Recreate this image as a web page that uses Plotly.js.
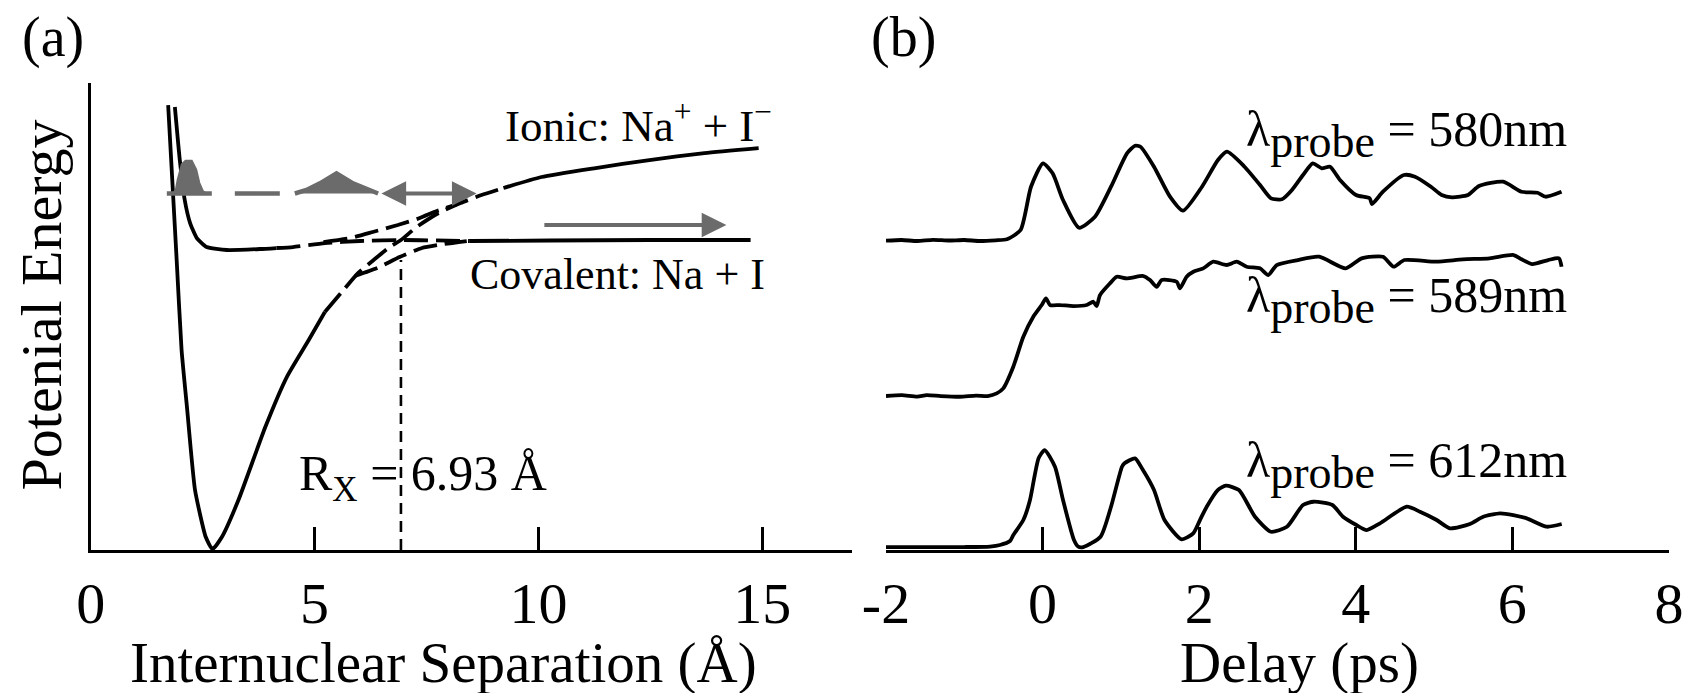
<!DOCTYPE html>
<html>
<head>
<meta charset="utf-8">
<script src="https://cdn.plot.ly/plotly-3.0.1.min.js"></script>
<style>html,body{margin:0;padding:0;background:#fff;}#chart{width:1686px;height:693px;}</style>
</head>
<body>
<div id="chart"></div>
<script>
// ---------- Panel (a): potential energy curves (x in Å, y arbitrary units) ----------
const ionicX = [1.73, 1.92, 2.03, 2.15, 2.33, 2.57, 2.72, 2.93, 3.30, 3.90, 4.38, 4.87, 5.23, 5.59, 5.97, 6.32, 6.68, 6.93, 7.28, 7.77, 8.26, 8.73, 9.22, 10.07, 11.28, 12.48, 13.71, 14.92];
const ionicY = [44.5, 29.0, 20.0, 14.3, 6.0, 1.3, 0.1, 1.3, 5.0, 12.3, 17.3, 21.0, 23.8, 25.7, 27.7, 29.0, 30.3, 31.0, 32.3, 33.7, 34.7, 35.5, 36.2, 37.3, 38.2, 39.0, 39.7, 40.2];
const covX = [1.88, 1.99, 2.10, 2.22, 2.37, 2.59, 3.04, 3.78, 4.15, 4.52, 5.23, 6.01, 6.97, 8.47, 10.25, 12.48, 14.74];
const covY = [44.3, 39.0, 35.0, 32.7, 31.2, 30.3, 30.0, 30.1, 30.2, 30.3, 30.7, 30.9, 31.0, 30.9, 30.95, 31.0, 31.0];
const upperAdiaX = [5.2, 5.8, 6.3, 6.86, 7.35, 7.73, 8.2];
const upperAdiaY = [30.8, 31.2, 31.8, 32.5, 33.2, 33.9, 34.6];
const lowerAdiaX = [5.9, 6.4, 6.9, 7.4, 7.9, 8.4];
const lowerAdiaY = [27.4, 28.2, 29.3, 30.2, 30.6, 30.9];
const packetLevel = 35.65;
const packet1X = [1.88, 1.93, 1.97, 2.00, 2.06, 2.13, 2.24, 2.33, 2.40, 2.48, 2.53];
const packet1Y = [35.65, 36.0, 37.0, 37.7, 38.5, 38.8, 38.8, 38.0, 36.67, 35.83, 35.65];
const packet2X = [4.56, 4.82, 5.12, 5.34, 5.49, 5.64, 5.86, 6.23, 6.42];
const packet2Y = [35.65, 36.0, 36.67, 37.27, 37.67, 37.27, 36.67, 36.0, 35.65];
const crossingR = 6.93;
const crossingE = 29.0;
const ionicSolidEnd = 5.23, ionicSolidStart = 9.22;
const covSolidEnd = 4.15, covSolidStart = 8.47;
const packetStart = 1.70;
const oscArrow = [6.46, 8.62];
const dissocArrow = [10.1, 14.2];
const dissocLevel = 32.5;
const xTicksA = [0, 5, 10, 15];

// ---------- Panel (b): transients vs delay (ps) ----------
const t580 = [-2.0, -1.8, -1.6, -1.4, -1.2, -1.0, -0.8, -0.6, -0.455, -0.281, -0.148, 0.005, 0.128, 0.261, 0.465, 0.669, 0.874, 1.078, 1.180, 1.250, 1.423, 1.627, 1.793, 2.036, 2.240, 2.355, 2.579, 2.777, 2.917, 3.057, 3.185, 3.326, 3.450, 3.566, 3.671, 3.799, 4.003, 4.178, 4.207, 4.347, 4.616, 4.756, 4.960, 5.097, 5.229, 5.433, 5.574, 5.881, 6.117, 6.322, 6.424, 6.628];
const s580 = [30.93, 31.0, 30.9, 31.02, 30.95, 31.0, 30.9, 30.97, 31.07, 32.0, 36.33, 38.67, 37.67, 35.0, 32.23, 33.33, 36.33, 39.67, 40.43, 40.33, 38.33, 35.33, 33.93, 36.33, 39.0, 39.83, 38.33, 36.5, 35.17, 35.07, 36.0, 37.5, 38.67, 38.17, 38.33, 37.0, 35.5, 35.17, 34.6, 35.83, 37.5, 37.33, 36.33, 35.5, 35.27, 35.5, 36.4, 36.83, 35.83, 35.73, 35.33, 35.83];
const t589 = [-2.0, -1.8, -1.6, -1.48, -1.3, -1.055, -0.85, -0.7, -0.586, -0.502, -0.374, -0.246, -0.119, -0.011, 0.043, 0.095, 0.222, 0.392, 0.563, 0.648, 0.691, 0.733, 0.861, 0.946, 1.074, 1.286, 1.372, 1.457, 1.521, 1.713, 1.755, 1.840, 1.925, 2.052, 2.180, 2.351, 2.479, 2.607, 2.776, 2.883, 2.990, 3.259, 3.530, 3.871, 4.075, 4.347, 4.484, 4.621, 5.028, 5.369, 5.709, 6.015, 6.117, 6.254, 6.458, 6.595, 6.628];
const s589 = [15.4, 15.5, 15.35, 15.5, 15.4, 15.33, 15.45, 15.4, 15.67, 16.17, 18.33, 21.33, 23.33, 24.5, 25.17, 24.5, 24.5, 24.4, 24.5, 24.83, 24.4, 25.5, 26.67, 27.33, 27.17, 27.4, 27.0, 26.33, 27.0, 26.83, 26.17, 27.33, 27.83, 28.17, 28.83, 28.5, 28.83, 28.33, 28.17, 27.5, 28.5, 29.0, 29.33, 28.17, 29.17, 29.33, 28.33, 29.0, 28.83, 29.07, 29.17, 29.5, 29.07, 28.6, 29.0, 29.17, 28.33];
const t612 = [-2.0, -1.0, -0.672, -0.544, -0.416, -0.374, -0.246, -0.161, -0.10, -0.05, 0.026, 0.158, 0.261, 0.401, 0.456, 0.52, 0.740, 0.874, 1.014, 1.046, 1.180, 1.282, 1.423, 1.557, 1.776, 1.924, 2.010, 2.096, 2.237, 2.340, 2.508, 2.713, 2.917, 3.121, 3.326, 3.462, 3.701, 3.837, 4.008, 4.139, 4.309, 4.650, 4.820, 5.033, 5.203, 5.458, 5.628, 5.842, 6.012, 6.183, 6.439, 6.630];
const s612 = [0.3, 0.3, 0.35, 0.5, 0.9, 1.5, 3.0, 5.0, 7.5, 9.2, 10.0, 8.33, 5.0, 1.0, 0.33, 0.3, 1.33, 4.33, 8.33, 8.67, 9.17, 8.0, 6.0, 3.0, 1.07, 1.67, 3.0, 4.33, 6.0, 6.43, 6.0, 3.33, 1.83, 2.33, 4.5, 4.83, 4.5, 3.33, 2.5, 2.0, 2.67, 4.33, 3.83, 3.0, 2.17, 2.6, 3.33, 3.67, 3.5, 3.17, 2.33, 2.6];
const xTicksB = [-2, 0, 2, 4, 6, 8];
const xTickTextB = ['-2', '0', '2', '4', '6', '8'];
const probeLabels = ['580nm', '589nm', '612nm'];
const probeLabelY = [41.6, 25.0, 8.5];

// ---------- helpers ----------
const FONT = 'Liberation Serif, Times New Roman, serif';
const GRAY = '#6b6b6b';
const LW = 3.8;
function slice(xs, ys, lo, hi) {
  const ox = [], oy = [];
  xs.forEach((x, i) => { if (x >= lo - 1e-9 && x <= hi + 1e-9) { ox.push(x); oy.push(ys[i]); } });
  return {x: ox, y: oy};
}
function line(d, dash, extra) {
  return Object.assign({type: 'scatter', mode: 'lines', x: d.x, y: d.y, xaxis: 'x', yaxis: 'y',
    line: {color: 'black', width: LW, dash: dash || 'solid', shape: 'spline', smoothing: 0.5}, hoverinfo: 'skip'}, extra || {});
}
const BLACK_DASH = '24px,8px';

const traces = [];
traces.push(line(slice(ionicX, ionicY, -1, ionicSolidEnd)));
traces.push(line(slice(ionicX, ionicY, ionicSolidEnd, ionicSolidStart), BLACK_DASH));
traces.push(line(slice(ionicX, ionicY, ionicSolidStart, 99)));
traces.push(line(slice(covX, covY, -1, covSolidEnd)));
traces.push(line(slice(covX, covY, covSolidEnd, covSolidStart), BLACK_DASH));
traces.push(line(slice(covX, covY, covSolidStart, 99)));
traces.push(line({x: upperAdiaX, y: upperAdiaY}, BLACK_DASH));
traces.push(line({x: lowerAdiaX, y: lowerAdiaY}, BLACK_DASH));
traces.push(line({x: [crossingR, crossingR], y: [0, crossingE]}, null, {line: {color: 'black', width: 2.6, dash: '11px,7px'}}));
traces.push(line({x: [packetStart, packet2X[0]], y: [packetLevel, packetLevel]}, null, {line: {color: GRAY, width: 4.5, dash: '45px,23px'}}));
[[packet1X, packet1Y], [packet2X, packet2Y]].forEach(p => {
  traces.push({type: 'scatter', mode: 'lines', x: p[0], y: p[1], xaxis: 'x', yaxis: 'y', fill: 'toself',
    fillcolor: GRAY, line: {color: GRAY, width: 4.5}, hoverinfo: 'skip'});
});
[[t580, s580], [t589, s589], [t612, s612]].forEach(p => {
  traces.push({type: 'scatter', mode: 'lines', x: p[0], y: p[1], xaxis: 'x2', yaxis: 'y2',
    line: {color: 'black', width: LW, shape: 'spline', smoothing: 0.6}, hoverinfo: 'skip'});
});

const tf = {family: FONT, size: 57, color: 'black'};
const annotations = [
  {xref: 'paper', yref: 'paper', x: 0.0314, y: 0.9452, text: '(a)', showarrow: false, font: {family: FONT, size: 56, color: 'black'}, xanchor: 'center', yanchor: 'middle'},
  {xref: 'paper', yref: 'paper', x: 0.5356, y: 0.9452, text: '(b)', showarrow: false, font: {family: FONT, size: 56, color: 'black'}, xanchor: 'center', yanchor: 'middle'},
  {xref: 'paper', yref: 'paper', x: 0.2628, y: 0.044, text: 'Internuclear Separation (Å)', showarrow: false, font: tf, xanchor: 'center', yanchor: 'middle'},
  {xref: 'paper', yref: 'paper', x: 0.7705, y: 0.044, text: 'Delay (ps)', showarrow: false, font: tf, xanchor: 'center', yanchor: 'middle'},
  {xref: 'paper', yref: 'paper', x: 0.0249, y: 0.5606, text: 'Potenial Energy', textangle: -90, showarrow: false, font: {family: FONT, size: 58, color: 'black'}, xanchor: 'center', yanchor: 'middle'},
  {xref: 'x', yref: 'y', x: 15.27, y: 42.8, text: 'Ionic: Na<sup>+</sup> + I<sup>−</sup>', showarrow: false, font: {family: FONT, size: 45, color: 'black'}, xanchor: 'right', yanchor: 'middle'},
  {xref: 'x', yref: 'y', x: 15.1, y: 27.6, text: 'Covalent: Na + I', showarrow: false, font: {family: FONT, size: 44, color: 'black'}, xanchor: 'right', yanchor: 'middle'},
  {xref: 'x', yref: 'y', x: 4.6, y: 7.3, text: 'R<sub>X</sub> = 6.93 Å', showarrow: false, font: {family: FONT, size: 50, color: 'black'}, xanchor: 'left', yanchor: 'middle'},
  {xref: 'x', yref: 'y', axref: 'x', ayref: 'y', x: oscArrow[1], y: packetLevel, ax: oscArrow[0], ay: packetLevel, text: '',
    showarrow: true, arrowside: 'end+start', arrowhead: 2, startarrowhead: 2, arrowsize: 1.3, startarrowsize: 1.3, arrowwidth: 3.8, arrowcolor: GRAY},
  {xref: 'x', yref: 'y', axref: 'x', ayref: 'y', x: dissocArrow[1], y: dissocLevel, ax: dissocArrow[0], ay: dissocLevel, text: '',
    showarrow: true, arrowhead: 2, arrowsize: 1.3, arrowwidth: 3.8, arrowcolor: GRAY}
];
probeLabels.forEach((lab, i) => {
  annotations.push({xref: 'x2', yref: 'y2', x: 6.72, y: probeLabelY[i], text: 'λ<sub><span style="font-size:46px">probe</span></sub> = ' + lab,
    showarrow: false, font: {family: FONT, size: 50, color: 'black'}, xanchor: 'right', yanchor: 'middle'});
});

const axisCommon = {showgrid: false, zeroline: false, showline: true, linecolor: 'black', linewidth: 3.2,
  ticks: 'inside', ticklen: 23, tickwidth: 3.2, tickcolor: 'black', tickfont: {family: FONT, size: 58, color: 'black'}, fixedrange: true};
const layout = {
  width: 1686, height: 693, margin: {l: 0, r: 0, t: 0, b: 0},
  paper_bgcolor: 'white', plot_bgcolor: 'rgba(0,0,0,0)', showlegend: false,
  font: {family: FONT, color: 'black'},
  xaxis: Object.assign({}, axisCommon, {domain: [0.0538, 0.5052], range: [0, 17], tickvals: xTicksA, anchor: 'y'}),
  yaxis: {domain: [0.2063, 0.8802], range: [0, 46.7], showgrid: false, zeroline: false, showline: true, linecolor: 'black', linewidth: 3.2,
    ticks: '', showticklabels: false, anchor: 'x', fixedrange: true},
  xaxis2: Object.assign({}, axisCommon, {domain: [0.5255, 0.9899], range: [-2, 8], tickvals: xTicksB, ticktext: xTickTextB, anchor: 'y2'}),
  yaxis2: {domain: [0.2063, 0.8802], range: [0, 46.7], visible: false, anchor: 'x2', fixedrange: true},
  annotations: annotations
};
Plotly.newPlot('chart', traces, layout, {displayModeBar: false, staticPlot: true});
</script>
</body>
</html>
